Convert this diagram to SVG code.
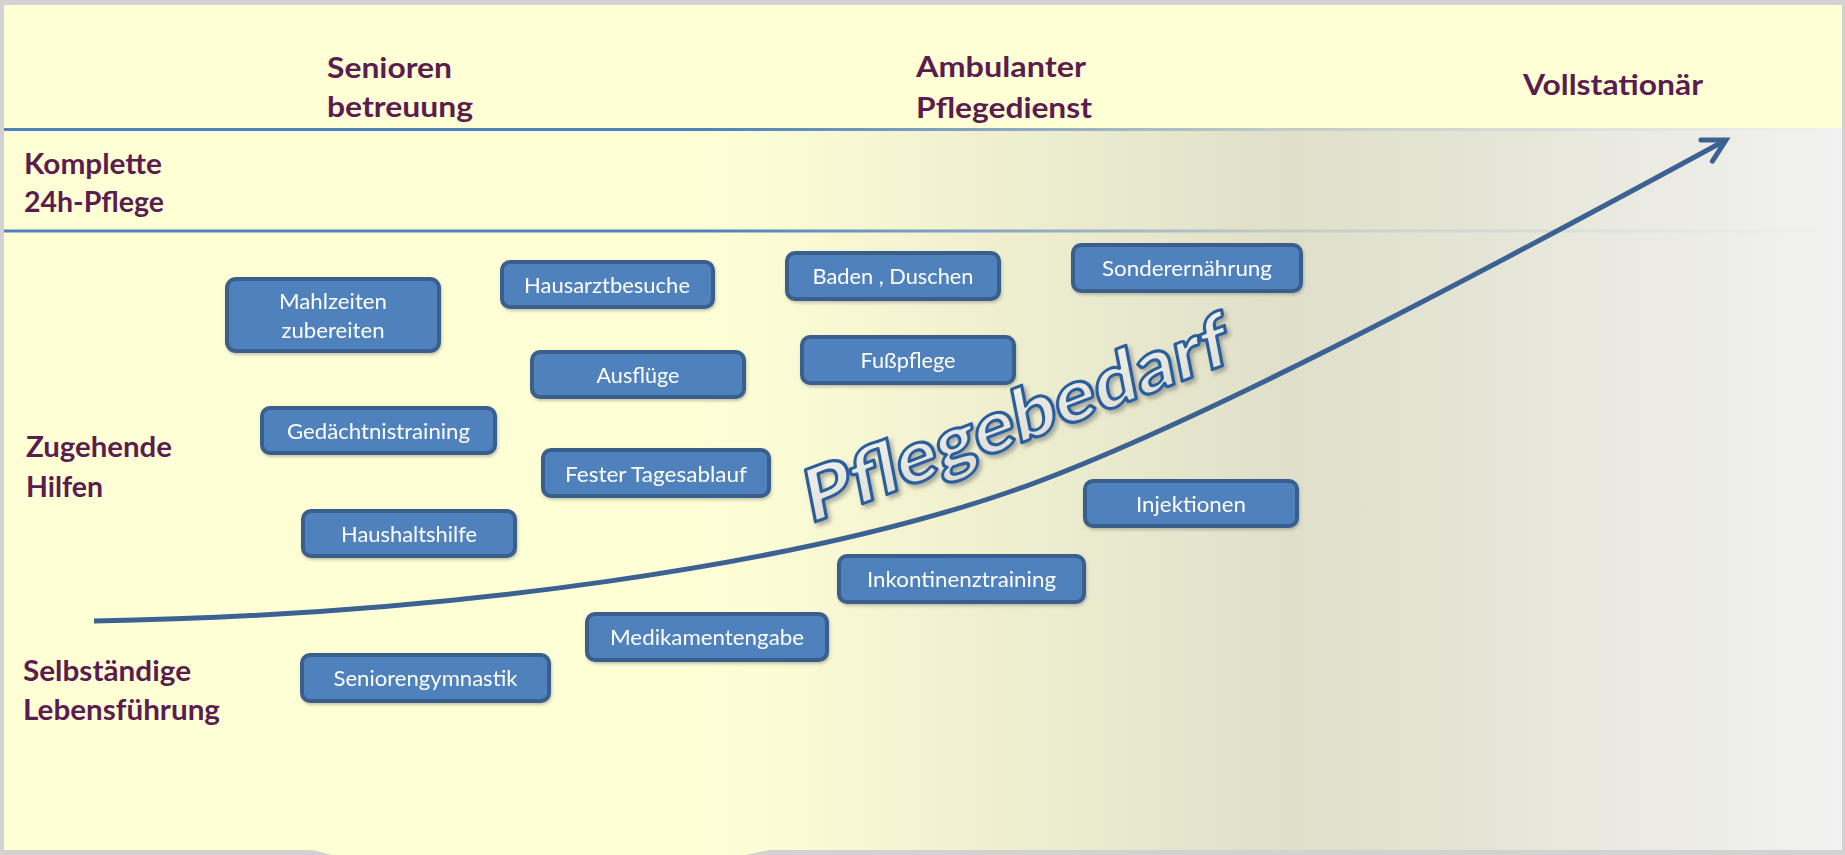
<svg xmlns="http://www.w3.org/2000/svg" width="1845" height="855" viewBox="0 0 1845 855">
<defs>
<style>
.hdr{font-family:Lato,"Liberation Sans",sans-serif;font-weight:bold;font-size:29px;fill:#5B1D4E}
.box rect{fill:#4F81BD;stroke:#3A5F8C;stroke-width:4}
.box text{font-family:Lato,"Liberation Sans",sans-serif;font-size:21px;fill:#FFFFFF;text-anchor:middle}
.sep{stroke:#4F81BD;stroke-width:3}
.curve{fill:none;stroke:#3B6293;stroke-width:5}
</style>
<linearGradient id="fade" gradientUnits="userSpaceOnUse" x1="700" y1="0" x2="1842" y2="0">
<stop offset="0" stop-color="#DADAC8" stop-opacity="0"/>
<stop offset="0.52" stop-color="#DADAC8" stop-opacity="0.85"/>
<stop offset="1" stop-color="#F2F2F2" stop-opacity="1"/>
</linearGradient>
<linearGradient id="wa" x1="0" y1="0" x2="0" y2="1">
<stop offset="0" stop-color="#F4F4F0"/>
<stop offset="1" stop-color="#DCDCD4"/>
</linearGradient>
<filter id="sh" x="-10%" y="-30%" width="130%" height="160%">
<feDropShadow dx="3" dy="3" stdDeviation="2" flood-color="#707070" flood-opacity="0.55"/>
</filter>
<filter id="bs" x="-10%" y="-20%" width="130%" height="160%">
<feDropShadow dx="1" dy="2" stdDeviation="1.5" flood-color="#606060" flood-opacity="0.35"/>
</filter>
<marker id="chev" markerUnits="userSpaceOnUse" markerWidth="40" markerHeight="40" refX="0" refY="0" orient="auto" overflow="visible">
<path d="M-22,-12 L0,0 L-22,12" fill="none" stroke="#3B6293" stroke-width="5" stroke-linecap="round" stroke-linejoin="miter"/>
</marker>
</defs>

<rect x="0" y="0" width="1845" height="855" fill="#D2D2D2"/>
<path d="M4,5 H1842 V850 H769 L746,855 H332 L313,850 H4 Z" fill="#FFFFD6"/>

<line class="sep" x1="4" y1="129.5" x2="1842" y2="129.5"/>
<line class="sep" x1="4" y1="231" x2="1842" y2="231"/>
<path d="M700,128 H1842 V850 H769 L746,855 H700 Z" fill="url(#fade)"/>

<g id="headers">
<text class="hdr" x="327" y="78" textLength="125" lengthAdjust="spacingAndGlyphs">Senioren</text>
<text class="hdr" x="327" y="117" textLength="146" lengthAdjust="spacingAndGlyphs">betreuung</text>
<text class="hdr" x="916" y="77" textLength="170" lengthAdjust="spacingAndGlyphs">Ambulanter</text>
<text class="hdr" x="916" y="118" textLength="176" lengthAdjust="spacingAndGlyphs">Pflegedienst</text>
<text class="hdr" x="1523" y="95" textLength="180" lengthAdjust="spacingAndGlyphs">Vollstationär</text>
<text class="hdr" x="24" y="174" textLength="138" lengthAdjust="spacingAndGlyphs">Komplette</text>
<text class="hdr" x="24" y="212" textLength="140" lengthAdjust="spacingAndGlyphs">24h-Pflege</text>
<text class="hdr" x="26" y="457" textLength="146" lengthAdjust="spacingAndGlyphs">Zugehende</text>
<text class="hdr" x="26" y="497" textLength="77" lengthAdjust="spacingAndGlyphs">Hilfen</text>
<text class="hdr" x="23" y="681" textLength="168" lengthAdjust="spacingAndGlyphs">Selbständige</text>
<text class="hdr" x="23" y="720" textLength="197" lengthAdjust="spacingAndGlyphs">Lebensführung</text>
</g>

<g id="connectors">
<path class="curve" d="M94,621 C450,615 800,565 1015,490 C1180,432 1450,290 1726,140" marker-end="url(#chev)"/>
</g>

<g id="pflegebedarf" filter="url(#sh)">
<text x="0" y="0" transform="translate(810 524) rotate(-21) skewX(-10)" font-family="Lato,'Liberation Sans',sans-serif" font-weight="900" font-size="72" textLength="452" lengthAdjust="spacingAndGlyphs" fill="url(#wa)" stroke="#2B5E9E" stroke-width="3" stroke-linejoin="round">Pflegebedarf</text>
</g>

<g id="n-mahlzeiten" class="box" filter="url(#bs)"><rect x="227" y="279" width="212" height="72" rx="9"/><text x="333" y="309" textLength="108" lengthAdjust="spacingAndGlyphs">Mahlzeiten</text><text x="333" y="338" textLength="103" lengthAdjust="spacingAndGlyphs">zubereiten</text></g>
<g id="n-hausarzt" class="box" filter="url(#bs)"><rect x="502" y="262" width="211" height="45" rx="8"/><text x="607" y="293" textLength="166" lengthAdjust="spacingAndGlyphs">Hausarztbesuche</text></g>
<g id="n-ausfluege" class="box" filter="url(#bs)"><rect x="532" y="352" width="212" height="45" rx="8"/><text x="638" y="383" textLength="83" lengthAdjust="spacingAndGlyphs">Ausflüge</text></g>
<g id="n-gedaechtnis" class="box" filter="url(#bs)"><rect x="262" y="408" width="233" height="45" rx="8"/><text x="378.5" y="439" textLength="183" lengthAdjust="spacingAndGlyphs">Gedächtnistraining</text></g>
<g id="n-tagesablauf" class="box" filter="url(#bs)"><rect x="543" y="450" width="226" height="46" rx="8"/><text x="656" y="482" textLength="182" lengthAdjust="spacingAndGlyphs">Fester Tagesablauf</text></g>
<g id="n-haushalt" class="box" filter="url(#bs)"><rect x="303" y="511" width="212" height="45" rx="8"/><text x="409" y="542" textLength="136" lengthAdjust="spacingAndGlyphs">Haushaltshilfe</text></g>
<g id="n-baden" class="box" filter="url(#bs)"><rect x="787" y="253" width="212" height="46" rx="8"/><text x="893" y="284" textLength="161" lengthAdjust="spacingAndGlyphs">Baden , Duschen</text></g>
<g id="n-fusspflege" class="box" filter="url(#bs)"><rect x="802" y="337" width="212" height="46" rx="8"/><text x="908" y="368" textLength="95" lengthAdjust="spacingAndGlyphs">Fußpflege</text></g>
<g id="n-sonder" class="box" filter="url(#bs)"><rect x="1073" y="245" width="228" height="46" rx="8"/><text x="1187" y="276" textLength="170" lengthAdjust="spacingAndGlyphs">Sonderernährung</text></g>
<g id="n-injektionen" class="box" filter="url(#bs)"><rect x="1085" y="481" width="212" height="45" rx="8"/><text x="1191" y="512" textLength="110" lengthAdjust="spacingAndGlyphs">Injektionen</text></g>
<g id="n-inkontinenz" class="box" filter="url(#bs)"><rect x="839" y="556" width="245" height="46" rx="8"/><text x="961.5" y="587" textLength="189" lengthAdjust="spacingAndGlyphs">Inkontinenztraining</text></g>
<g id="n-medikamente" class="box" filter="url(#bs)"><rect x="587" y="614" width="240" height="46" rx="8"/><text x="707" y="645" textLength="194" lengthAdjust="spacingAndGlyphs">Medikamentengabe</text></g>
<g id="n-gymnastik" class="box" filter="url(#bs)"><rect x="302" y="655" width="247" height="46" rx="8"/><text x="425.5" y="686" textLength="184" lengthAdjust="spacingAndGlyphs">Seniorengymnastik</text></g>
</svg>
